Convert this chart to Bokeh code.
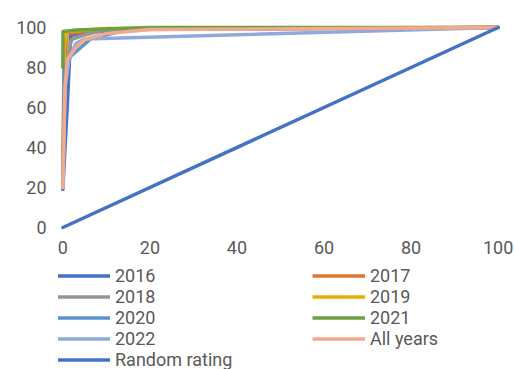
from bokeh.plotting import figure
from bokeh.models import Range1d, Legend, LegendItem, FixedTicker
from bokeh.layouts import column
from bokeh.embed import file_html
from bokeh.resources import INLINE

# ---- data ----
s2016_x = [0, 0.5, 1.0, 1.8, 5, 20, 100]
s2016_y = [19, 40, 60, 96, 97.5, 99.5, 100]
s2017_x = [0, 0.5, 1.0, 10, 100]
s2017_y = [25, 85, 97, 99, 100]
s2018_x = [0, 0.5, 2, 4.5, 10, 100]
s2018_y = [22, 80, 94, 96, 99, 100]
s2019_x = [0, 0.3, 1.0, 10, 100]
s2019_y = [30, 90, 98, 99.5, 100]
s2020_x = [0, 0.3, 2, 6.5, 15, 100]
s2020_y = [20, 81, 86, 94.5, 99, 100]
s2021_x = [0, 0.05, 3, 20, 100]
s2021_y = [80, 98, 98.8, 100, 100]
s2022_x = [0, 0.5, 1.5, 3, 5, 100]
s2022_y = [20, 70, 85, 92, 94.3, 100]
all_x = [0, 0.5, 1, 3, 5, 10, 20, 100]
all_y = [20, 70, 84, 90, 94, 97, 99, 100]
rand_x = [0, 100]
rand_y = [0, 100]

names = ["2016", "2017", "2018", "2019", "2020", "2021", "2022", "All years", "Random rating"]
xs = [s2016_x, s2017_x, s2018_x, s2019_x, s2020_x, s2021_x, s2022_x, all_x, rand_x]
ys = [s2016_y, s2017_y, s2018_y, s2019_y, s2020_y, s2021_y, s2022_y, all_y, rand_y]
colors = ["#4472C4", "#DD7431", "#969696", "#E8AE00", "#5B93CF", "#6BA044",
          "#91A9DA", "#F3A98A", "#4472C4"]

ticks = [0, 20, 40, 60, 80, 100]
FONT = "Roboto"
FSIZE = "18px"

p = figure(width=514, height=261, output_backend="svg", toolbar_location=None,
           x_range=Range1d(-1, 101), y_range=Range1d(-2, 102),
           min_border_left=58, min_border_right=12,
           min_border_top=23, min_border_bottom=30)
p.outline_line_color = None
p.grid.visible = False

for ax in (p.xaxis[0], p.yaxis[0]):
    ax.ticker = FixedTicker(ticks=ticks)
    ax.axis_line_color = None
    ax.major_tick_line_color = None
    ax.minor_tick_line_color = None
    ax.major_tick_out = 0
    ax.major_tick_in = 0
    ax.major_label_text_font = FONT
    ax.major_label_text_font_size = FSIZE
    ax.major_label_text_color = "#595959"
p.yaxis[0].major_label_standoff = 12
p.xaxis[0].major_label_standoff = 9

for x, y, c in zip(xs, ys, colors):
    p.line(x, y, line_color=c, line_width=3.5, line_join="round", line_cap="round")

# legend panel: a separate figure whose ranges exclude the data,
# so that only the legend is visible
lg = figure(width=514, height=108, output_backend="svg", toolbar_location=None,
            x_range=Range1d(-20, -10), y_range=Range1d(-20, -10),
            x_axis_location=None, y_axis_location=None,
            min_border_left=0, min_border_right=0, min_border_top=0, min_border_bottom=0)
lg.grid.visible = False
lg.outline_line_color = None

rend = {}
for n, x, y, c in zip(names, xs, ys, colors):
    rend[n] = lg.line(x, y, line_color=c, line_width=3.5)

# Bokeh fills legend columns top-to-bottom, so order column by column
order = ["2016", "2018", "2020", "2022", "Random rating",
         "2017", "2019", "2021", "All years"]
items = [LegendItem(label=n, renderers=[rend[n]]) for n in order]
legend = Legend(items=items, ncols=2, location=(-1, -1),
                glyph_width=53, glyph_height=21, label_height=21,
                label_width=197, label_standoff=5, spacing=0,
                padding=0, margin=0,
                background_fill_alpha=0, border_line_alpha=0,
                label_text_font=FONT, label_text_font_size=FSIZE,
                label_text_color="#595959")
lg.add_layout(legend, "center")

layout = column(p, lg, spacing=0)
open("out.html", "w").write(file_html(layout, INLINE))
